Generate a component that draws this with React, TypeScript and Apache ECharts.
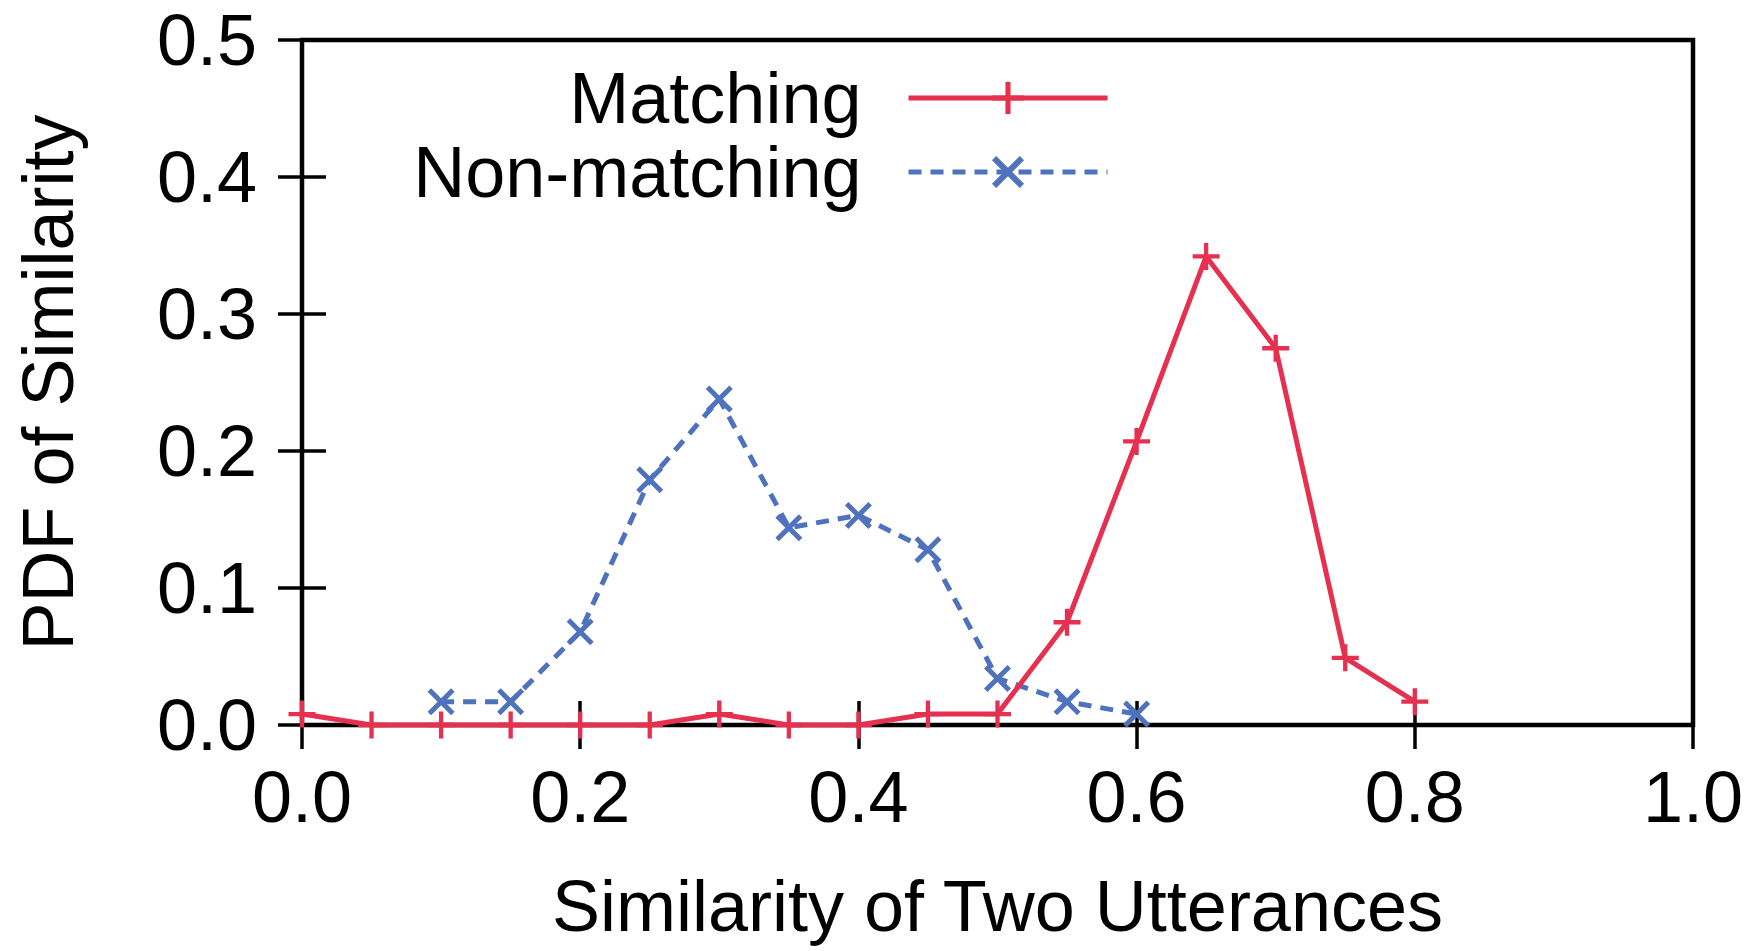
import React, { useEffect, useRef } from "react";
import * as echarts from "echarts";

const matchingX = [0.0, 0.05, 0.1, 0.15, 0.2, 0.25, 0.3, 0.35, 0.4, 0.45, 0.5, 0.55, 0.6, 0.65, 0.7, 0.75, 0.8];
const matchingY = [0.008, 0.0, 0.0, 0.0, 0.0, 0.0, 0.008, 0.0, 0.0, 0.008, 0.008, 0.075, 0.207, 0.342, 0.275, 0.049, 0.017];
const nonMatchingX = [0.1, 0.15, 0.2, 0.25, 0.3, 0.35, 0.4, 0.45, 0.5, 0.55, 0.6];
const nonMatchingY = [0.017, 0.017, 0.068, 0.179, 0.238, 0.144, 0.153, 0.128, 0.034, 0.017, 0.008];
const seriesNames = ["Matching", "Non-matching"];
const xAxisTitle = "Similarity of Two Utterances";
const yAxisTitle = "PDF of Similarity";

const RED = "#E5304F";
const BLUE = "#4F72BE";
const FONT = "Liberation Sans";

const PLUS = "path://M42,0H58V42H100V58H58V100H42V58H0V42H42Z";
const CROSS = "path://M0,13L13,0L100,87L87,100Z M87,0L100,13L13,100L0,87Z";

export default function App() {
  const ref = useRef<HTMLDivElement>(null);
  useEffect(() => {
    if (!ref.current) return;
    const chart = echarts.init(ref.current, null, { renderer: "svg" });
    const tickCommon = { show: true, inside: true, length: 24, lineStyle: { color: "#000", width: 3.5 } };
    const labelCommon = { color: "#000", fontSize: 72, fontFamily: FONT, lineHeight: 80 };
    chart.setOption({
      animation: false,
      backgroundColor: "#fff",
      grid: {
        left: 301,
        right: 66,
        top: 35,
        bottom: 220,
        show: true,
        borderColor: "#000",
        borderWidth: 4.5,
        containLabel: false,
      },
      legend: {
        data: seriesNames,
        orient: "vertical",
        align: "right",
        right: 649,
        top: 62,
        padding: 0,
        itemGap: 2,
        itemWidth: 199,
        itemHeight: 40,
        lineStyle: { width: 5 },
        textStyle: { color: "#000", fontSize: 72, fontFamily: FONT, lineHeight: 72, padding: [0, 42, 0, 0] },
      },
      xAxis: [
        {
          type: "value",
          min: 0,
          max: 1,
          interval: 0.2,
          position: "bottom",
          axisLine: { show: false },
          axisTick: tickCommon,
          splitLine: { show: false },
          axisLabel: { ...labelCommon, margin: 32, formatter: (v: number) => v.toFixed(1) },
          name: xAxisTitle,
          nameLocation: "middle",
          nameGap: 141,
          nameTextStyle: { color: "#000", fontSize: 72, fontFamily: FONT, lineHeight: 80 },
        },
        {
          type: "value",
          min: 0,
          max: 1,
          interval: 0.2,
          position: "top",
          axisLine: { show: false },
          axisTick: tickCommon,
          splitLine: { show: false },
          axisLabel: { show: false },
        },
      ],
      yAxis: [
        {
          type: "value",
          min: 0,
          max: 0.5,
          interval: 0.1,
          position: "left",
          axisLine: { show: false },
          axisTick: tickCommon,
          splitLine: { show: false },
          axisLabel: { ...labelCommon, margin: 45, formatter: (v: number) => v.toFixed(1) },
          name: yAxisTitle,
          nameLocation: "middle",
          nameGap: 214,
          nameTextStyle: { color: "#000", fontSize: 72, fontFamily: FONT, lineHeight: 80 },
        },
        {
          type: "value",
          min: 0,
          max: 0.5,
          interval: 0.1,
          position: "right",
          axisLine: { show: false },
          axisTick: tickCommon,
          splitLine: { show: false },
          axisLabel: { show: false },
        },
      ],
      series: [
        {
          name: seriesNames[1],
          type: "line",
          xAxisIndex: 0,
          yAxisIndex: 0,
          data: nonMatchingX.map((x, i) => [x, nonMatchingY[i]]),
          symbol: CROSS,
          symbolSize: 27,
          clip: false,
          itemStyle: { color: BLUE },
          lineStyle: { color: BLUE, width: 5, type: [13, 9] },
          z: 2,
        },
        {
          name: seriesNames[0],
          type: "line",
          xAxisIndex: 0,
          yAxisIndex: 0,
          data: matchingX.map((x, i) => [x, matchingY[i]]),
          symbol: PLUS,
          symbolSize: 27,
          clip: false,
          itemStyle: { color: RED },
          lineStyle: { color: RED, width: 5 },
          z: 3,
        },
      ],
    });
    return () => chart.dispose();
  }, []);
  return (
    <div
      ref={ref}
      style={{ position: "absolute", left: 0, top: 0, width: 1759, height: 951, background: "#fff" }}
    />
  );
}
